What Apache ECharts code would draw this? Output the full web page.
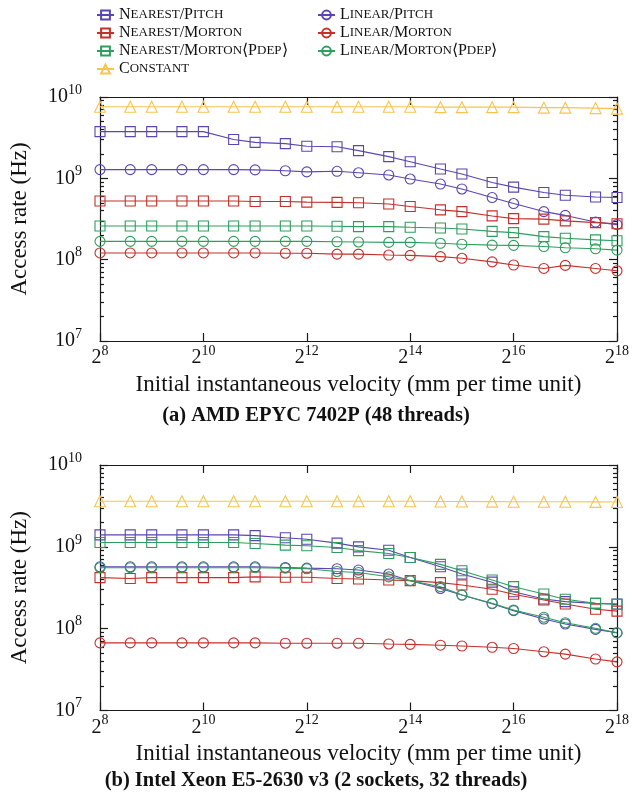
<!DOCTYPE html>
<html>
<head>
<meta charset="utf-8">
<script src="https://cdn.jsdelivr.net/npm/echarts@6/dist/echarts.min.js"></script>
<style>
html,body{margin:0;padding:0;background:#fff;}
#chart{width:632px;height:801px;}
</style>
</head>
<body>
<div id="chart"></div>
<script>
// ---- data ----
const velocities = [256, 384, 512, 768, 1024, 1536, 2048, 3072, 4096, 6144, 8192, 12288, 16384, 24576, 32768, 49152, 65536, 98304, 131072, 196608, 262144];

const seriesNames = ['Nearest/Pitch', 'Linear/Pitch', 'Nearest/Morton', 'Linear/Morton', 'Nearest/Morton⟨Pdep⟩', 'Linear/Morton⟨Pdep⟩', 'Constant'];

// (a) AMD EPYC 7402P
const amdNearestPitch = [3.75e9, 3.75e9, 3.75e9, 3.75e9, 3.75e9, 3.0e9, 2.77e9, 2.67e9, 2.48e9, 2.45e9, 2.19e9, 1.85e9, 1.6e9, 1.3e9, 1.13e9, 8.9e8, 7.8e8, 6.7e8, 6.2e8, 5.9e8, 5.8e8];
const amdLinearPitch = [1.28e9, 1.28e9, 1.28e9, 1.28e9, 1.28e9, 1.28e9, 1.27e9, 1.24e9, 1.2e9, 1.22e9, 1.17e9, 1.1e9, 9.8e8, 8.5e8, 7.4e8, 5.8e8, 4.9e8, 3.9e8, 3.5e8, 2.9e8, 2.7e8];
const amdNearestMorton = [5.26e8, 5.26e8, 5.26e8, 5.26e8, 5.26e8, 5.26e8, 5.2e8, 5.2e8, 5.1e8, 5.07e8, 5.0e8, 4.83e8, 4.5e8, 4.1e8, 3.9e8, 3.45e8, 3.2e8, 3.15e8, 3.0e8, 2.85e8, 2.77e8];
const amdLinearMorton = [1.21e8, 1.21e8, 1.21e8, 1.21e8, 1.21e8, 1.21e8, 1.21e8, 1.2e8, 1.2e8, 1.17e8, 1.17e8, 1.14e8, 1.13e8, 1.09e8, 1.04e8, 9.4e7, 8.6e7, 7.8e7, 8.5e7, 7.8e7, 7.3e7];
const amdNearestPdep = [2.59e8, 2.59e8, 2.59e8, 2.59e8, 2.59e8, 2.59e8, 2.59e8, 2.59e8, 2.59e8, 2.58e8, 2.55e8, 2.55e8, 2.5e8, 2.45e8, 2.38e8, 2.23e8, 2.15e8, 1.92e8, 1.83e8, 1.75e8, 1.71e8];
const amdLinearPdep = [1.68e8, 1.68e8, 1.68e8, 1.68e8, 1.68e8, 1.68e8, 1.68e8, 1.68e8, 1.68e8, 1.66e8, 1.65e8, 1.63e8, 1.63e8, 1.59e8, 1.55e8, 1.51e8, 1.5e8, 1.45e8, 1.4e8, 1.36e8, 1.31e8];
const amdConstant = [7.6e9, 7.6e9, 7.6e9, 7.6e9, 7.6e9, 7.6e9, 7.6e9, 7.6e9, 7.6e9, 7.6e9, 7.6e9, 7.6e9, 7.6e9, 7.5e9, 7.5e9, 7.5e9, 7.5e9, 7.4e9, 7.4e9, 7.3e9, 7.2e9];

// (b) Intel Xeon E5-2630 v3
const intelNearestPitch = [1.4e9, 1.4e9, 1.4e9, 1.4e9, 1.4e9, 1.4e9, 1.37e9, 1.29e9, 1.24e9, 1.11e9, 1.0e9, 9.1e8, 7.4e8, 5.7e8, 4.65e8, 3.7e8, 2.83e8, 2.3e8, 2.14e8, 2.04e8, 2.0e8];
const intelLinearPitch = [5.7e8, 5.7e8, 5.7e8, 5.7e8, 5.7e8, 5.7e8, 5.7e8, 5.6e8, 5.5e8, 5.4e8, 5.2e8, 4.65e8, 3.86e8, 3.1e8, 2.58e8, 2.02e8, 1.66e8, 1.31e8, 1.14e8, 9.8e7, 8.9e7];
const intelNearestMorton = [4.2e8, 4.1e8, 4.2e8, 4.2e8, 4.2e8, 4.2e8, 4.3e8, 4.25e8, 4.25e8, 4.1e8, 4.05e8, 3.94e8, 3.86e8, 3.65e8, 3.42e8, 3.03e8, 2.63e8, 2.24e8, 2.0e8, 1.73e8, 1.64e8];
const intelLinearMorton = [6.7e7, 6.7e7, 6.7e7, 6.7e7, 6.7e7, 6.7e7, 6.7e7, 6.64e7, 6.64e7, 6.64e7, 6.64e7, 6.5e7, 6.43e7, 6.28e7, 6.14e7, 5.92e7, 5.72e7, 5.23e7, 4.89e7, 4.26e7, 3.93e7];
const intelNearestPdep = [1.13e9, 1.13e9, 1.13e9, 1.13e9, 1.13e9, 1.13e9, 1.1e9, 1.05e9, 1.03e9, 9.8e8, 9.0e8, 8.3e8, 7.4e8, 6.1e8, 5.1e8, 3.94e8, 3.26e8, 2.65e8, 2.29e8, 2.04e8, 1.99e8];
const intelLinearPdep = [5.56e8, 5.56e8, 5.56e8, 5.56e8, 5.56e8, 5.56e8, 5.56e8, 5.5e8, 5.4e8, 5.0e8, 4.85e8, 4.3e8, 3.86e8, 3.26e8, 2.58e8, 2.04e8, 1.69e8, 1.38e8, 1.18e8, 1.01e8, 8.9e7];
const intelConstant = [3.6e9, 3.6e9, 3.6e9, 3.6e9, 3.6e9, 3.6e9, 3.6e9, 3.6e9, 3.6e9, 3.6e9, 3.6e9, 3.6e9, 3.6e9, 3.58e9, 3.58e9, 3.57e9, 3.56e9, 3.55e9, 3.55e9, 3.54e9, 3.53e9];

const xTickValues = [256, 1024, 4096, 16384, 65536, 262144];
const yMajorTicks = [1e7, 1e8, 1e9, 1e10];
const yMinorTicks = [];
[1e7, 1e8, 1e9].forEach(d => { for (let k = 2; k <= 9; k++) yMinorTicks.push(k * d); });

const xAxisTitle = 'Initial instantaneous velocity (mm per time unit)';
const yAxisTitle = 'Access rate (Hz)';
const captions = ['(a) AMD EPYC 7402P (48 threads)', '(b) Intel Xeon E5-2630 v3 (2 sockets, 32 threads)'];

// ---- styling ----
const FONT = 'Liberation Serif';
const styleOf = {
  'Nearest/Pitch': { color: '#5b45b0', symbol: 'rect' },
  'Linear/Pitch': { color: '#5b45b0', symbol: 'circle' },
  'Nearest/Morton': { color: '#c4302b', symbol: 'rect' },
  'Linear/Morton': { color: '#c4302b', symbol: 'circle' },
  'Nearest/Morton⟨Pdep⟩': { color: '#2e9e5e', symbol: 'rect' },
  'Linear/Morton⟨Pdep⟩': { color: '#2e9e5e', symbol: 'circle' },
  'Constant': { color: '#f8c44f', symbol: 'triangle' }
};
const panels = [
  [amdNearestPitch, amdLinearPitch, amdNearestMorton, amdLinearMorton, amdNearestPdep, amdLinearPdep, amdConstant],
  [intelNearestPitch, intelLinearPitch, intelNearestMorton, intelLinearMorton, intelNearestPdep, intelLinearPdep, intelConstant]
];

function smallCaps(str) {
  let out = '', i = 0;
  while (i < str.length) {
    const isLow = c => c >= 'a' && c <= 'z';
    const low = isLow(str[i]);
    let j = i;
    while (j < str.length && isLow(str[j]) === low) j++;
    const seg = str.slice(i, j);
    out += low ? '{s|' + seg.toUpperCase() + '}' : '{b|' + seg + '}';
    i = j;
  }
  return out;
}

const axisLineStyle = { color: '#1a1a1a', width: 1.2 };
const supRich = {
  b: { fontFamily: FONT, fontSize: 20, color: '#111', lineHeight: 28, verticalAlign: 'middle' },
  s: { fontFamily: FONT, fontSize: 14, color: '#111', lineHeight: 15, verticalAlign: 'top' }
};

const grids = [
  { left: 99.5, top: 97, width: 519.5, height: 244 },
  { left: 99.5, top: 465, width: 519.5, height: 245.5 }
];

const xAxes = [], yAxes = [], series = [];
grids.forEach((g, gi) => {
  xAxes.push({
    type: 'log', logBase: 2, gridIndex: gi, min: 256, max: 262144, position: 'bottom',
    name: xAxisTitle, nameLocation: 'middle', nameGap: 32,
    nameTextStyle: { fontFamily: FONT, fontSize: 23, color: '#111' },
    axisLine: { show: true, onZero: false, lineStyle: axisLineStyle },
    axisTick: { show: true, inside: true, length: 8, customValues: xTickValues, lineStyle: axisLineStyle },
    axisLabel: { customValues: xTickValues, margin: 3, rich: supRich,
      formatter: v => '{b|2}{s|' + Math.round(Math.log2(v)) + '}' },
    splitLine: { show: false }, minorTick: { show: false }
  });
  xAxes.push({
    type: 'log', logBase: 2, gridIndex: gi, min: 256, max: 262144, position: 'top',
    axisLine: { show: true, onZero: false, lineStyle: axisLineStyle },
    axisTick: { show: true, inside: true, length: 8, customValues: xTickValues, lineStyle: axisLineStyle },
    axisLabel: { show: false }, splitLine: { show: false }
  });
  const yBase = { type: 'log', logBase: 10, gridIndex: gi, min: 1e7, max: 1e10, splitLine: { show: false } };
  yAxes.push(Object.assign({}, yBase, {
    position: 'left',
    name: yAxisTitle, nameLocation: 'middle', nameGap: 69,
    nameTextStyle: { fontFamily: FONT, fontSize: 23, color: '#111' },
    axisLine: { show: true, onZero: false, lineStyle: axisLineStyle },
    axisTick: { show: true, inside: true, length: 8, customValues: yMajorTicks, lineStyle: axisLineStyle },
    axisLabel: { customValues: yMajorTicks, margin: 18, rich: supRich,
      formatter: v => '{b|10}{s|' + Math.round(Math.log10(v)) + '}' }
  }));
  yAxes.push(Object.assign({}, yBase, {
    position: 'left',
    axisLine: { show: false },
    axisTick: { show: true, inside: true, length: 4, customValues: yMinorTicks, lineStyle: axisLineStyle },
    axisLabel: { show: false }
  }));
  yAxes.push(Object.assign({}, yBase, {
    position: 'right',
    axisLine: { show: true, onZero: false, lineStyle: axisLineStyle },
    axisTick: { show: true, inside: true, length: 8, customValues: yMajorTicks, lineStyle: axisLineStyle },
    axisLabel: { show: false }
  }));
  yAxes.push(Object.assign({}, yBase, {
    position: 'right',
    axisLine: { show: false },
    axisTick: { show: true, inside: true, length: 4, customValues: yMinorTicks, lineStyle: axisLineStyle },
    axisLabel: { show: false }
  }));

  seriesNames.forEach((name, si) => {
    const st = styleOf[name];
    const vals = panels[gi][si];
    series.push({
      type: 'line', name: name, xAxisIndex: gi * 2, yAxisIndex: gi * 4,
      data: velocities.map((v, i) => [v, vals[i]]),
      symbol: st.symbol, symbolSize: st.symbol === 'triangle' ? 11 : 10,
      showAllSymbol: true, animation: false,
      lineStyle: { color: st.color, width: 1.1 },
      itemStyle: { color: 'rgba(255,255,255,0)', borderColor: st.color, borderWidth: 1.1 },
      emphasis: { disabled: true }
    });
  });
});

const legendRich = {
  b: { fontFamily: FONT, fontSize: 16, color: '#111', lineHeight: 16 },
  s: { fontFamily: FONT, fontSize: 13, color: '#111', lineHeight: 16 }
};
const legendBase = {
  orient: 'vertical', top: 2, itemWidth: 17, itemHeight: 11, itemGap: 2,
  selectedMode: false, formatter: smallCaps, textStyle: { rich: legendRich }
};

const chart = echarts.init(document.getElementById('chart'), null, { renderer: 'canvas' });
chart.setOption({
  animation: false,
  backgroundColor: '#fff',
  title: [
    { text: captions[0], left: 'center', top: 400, textStyle: { fontFamily: FONT, fontSize: 20.5, fontWeight: 'bold', color: '#111' } },
    { text: captions[1], left: 'center', top: 765, textStyle: { fontFamily: FONT, fontSize: 20.5, fontWeight: 'bold', color: '#111' } }
  ],
  legend: [
    Object.assign({}, legendBase, { left: 91, data: ['Nearest/Pitch', 'Nearest/Morton', 'Nearest/Morton⟨Pdep⟩', 'Constant'] }),
    Object.assign({}, legendBase, { left: 312, data: ['Linear/Pitch', 'Linear/Morton', 'Linear/Morton⟨Pdep⟩'] })
  ],
  grid: grids,
  xAxis: xAxes,
  yAxis: yAxes,
  series: series
});
</script>
</body>
</html>
